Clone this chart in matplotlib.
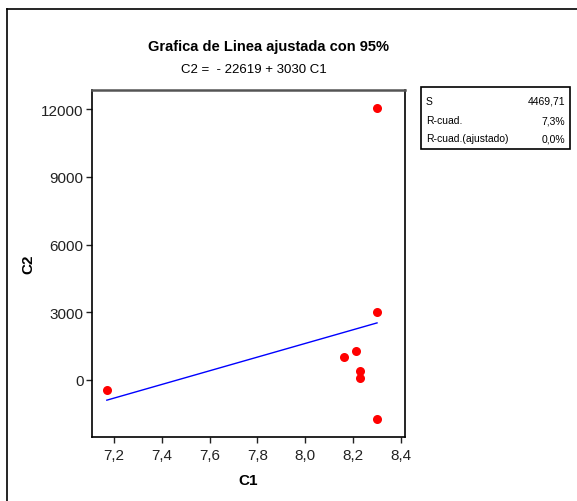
import matplotlib
matplotlib.use("Agg")
import matplotlib.pyplot as plt
import numpy as np
from matplotlib.lines import Line2D
from matplotlib.patches import Rectangle

# Data
c1 = [7.17, 8.16, 8.21, 8.23, 8.23, 8.30, 8.30, 8.30]
c2 = [-430, 1000, 1300, 380, 80, 12040, 3030, -1740]
intercept = -22619
slope = 3030
x_ticks = [7.2, 7.4, 7.6, 7.8, 8.0, 8.2, 8.4]
x_tick_labels = ["7,2", "7,4", "7,6", "7,8", "8,0", "8,2", "8,4"]
y_ticks = [0, 3000, 6000, 9000, 12000]
stat_names = ["S", "R-cuad.", "R-cuad.(ajustado)"]
stat_values = ["4469,71", "7,3%", "0,0%"]

FONT = ["Liberation Sans", "DejaVu Sans"]
plt.rcParams['font.family'] = FONT

fig = plt.figure(figsize=(5.77, 5.02), dpi=100)
ax = fig.add_axes([92/577, 1-438/502, (405-92)/577, (438-91)/502])

ax.plot(c1, c2, 'o', color='#ff0000', markersize=6.5, markeredgewidth=0, zorder=3)
xf = np.linspace(min(c1), max(c1), 30)
ax.plot(xf, intercept + slope*xf, color='#0000ff', linewidth=1.0, zorder=2)

ax.set_xlim(7.108, 8.417)
ax.set_ylim(-2526, 12851)
ax.set_xticks(x_ticks)
ax.set_xticklabels(x_tick_labels)
ax.set_yticks(y_ticks)
ax.tick_params(direction='out', length=4.5, width=1, labelsize=11, colors='#222222')
ax.tick_params(axis='y', pad=1.5)
for s in ax.spines.values():
    s.set_linewidth(1.2)
    s.set_color('black')
ax.spines['top'].set_color('#555555')
ax.spines['top'].set_linewidth(1.8)

ax.set_xlabel("C1", fontsize=11, fontweight='bold', labelpad=8)
ax.set_ylabel("C2", fontsize=11, fontweight='bold', labelpad=4)

fig.text(268/577, 1-47/502, "Grafica de Linea ajustada con 95%", ha='center', va='center',
         fontsize=10.5, fontweight='bold')
fig.text(254/577, 1-70/502, "C2 =  - 22619 + 3030 C1", ha='center', va='center', fontsize=9.5)

# Stats box
box = Rectangle((421/577, 1-150/502), (570-421)/577, (150-88)/502, transform=fig.transFigure,
                fill=False, edgecolor='black', linewidth=1.2)
fig.add_artist(box)
rows_y = [102, 121, 139]
for name, val, yy in zip(stat_names, stat_values, rows_y):
    fig.text(426/577, 1-yy/502, name, ha='left', va='center', fontsize=7.5)
    fig.text(565/577, 1-yy/502, val, ha='right', va='center', fontsize=7.5)

# Figure border (left and top)
fig.add_artist(Line2D([7/577, 7/577], [0, 1-10/502], transform=fig.transFigure, color='black', linewidth=1.2))
fig.add_artist(Line2D([7/577, 1], [1-10/502, 1-10/502], transform=fig.transFigure, color='black', linewidth=1.2))

fig.savefig("out.png", dpi=100)
